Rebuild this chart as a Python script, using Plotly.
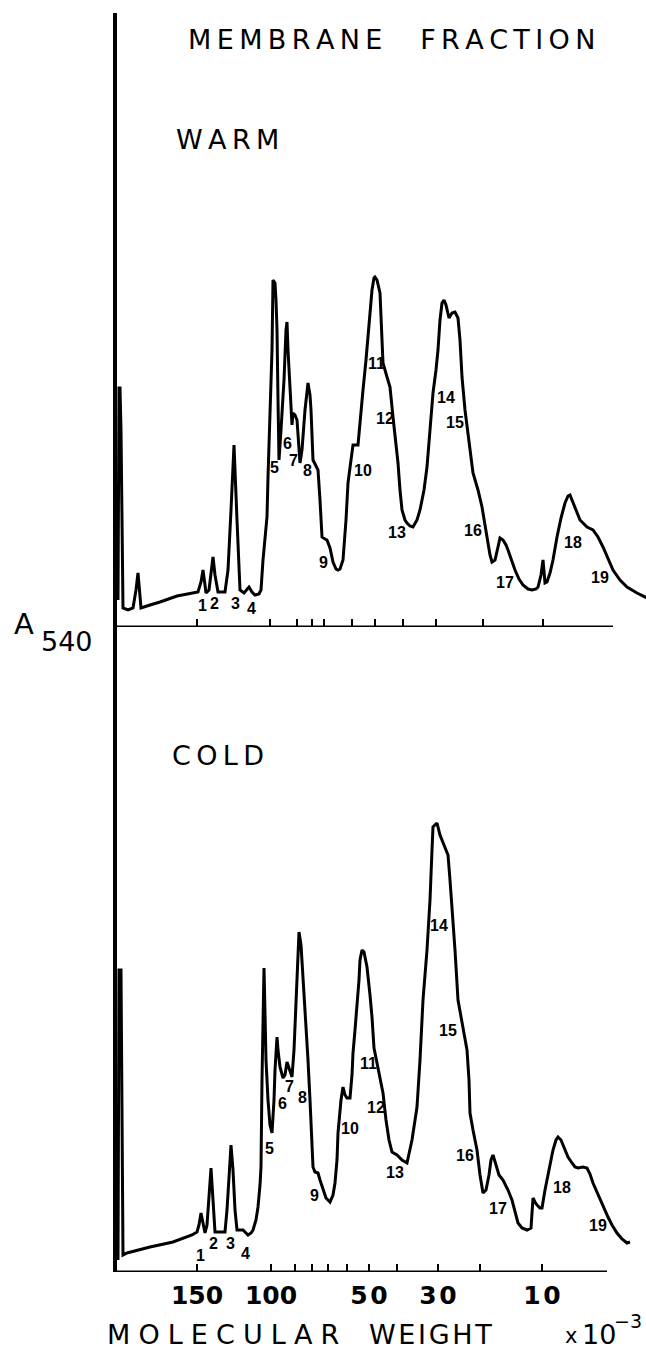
import plotly.graph_objects as go

W, H = 646, 1356

# ---- WARM membrane fraction densitometer trace (migration distance, A540 in arbitrary units)
warm_dist = [1, 2, 3, 4, 6, 11, 16, 19, 21, 23, 24, 33, 43, 60, 81, 84, 86, 88, 89, 92, 94, 96, 98, 101,
             108, 111, 114, 117, 120, 123, 127, 130, 132, 135, 138, 142, 144, 146, 148, 150, 151, 153, 155,
             156, 158, 159, 160, 161, 162, 164, 167, 169, 170, 171, 173, 174, 175, 176, 178, 180, 182, 183,
             185, 188, 191, 193, 194, 196, 199, 201, 203, 205, 208, 210, 213, 216, 219, 221, 223, 226, 229,
             231, 234, 236, 241, 243, 246, 249, 251, 253, 255, 257, 258, 260, 263, 265, 266, 270, 273, 276,
             279, 281, 283, 285, 288, 290, 293, 296, 300, 303, 307, 310, 313, 316, 319, 321, 323, 325, 327,
             329, 332, 335, 338, 341, 343, 345, 348, 350, 353, 356, 361, 365, 368, 370, 373, 375, 378, 381,
             383, 386, 389, 391, 395, 398, 402, 406, 411, 415, 419, 421, 424, 426, 428, 430, 433, 436, 440,
             444, 448, 451, 453, 456, 460, 463, 467, 470, 476, 481, 486, 491, 496, 503, 510, 520, 530]
warm_abs = [27, 239, 239, 197, 19, 17, 19, 37, 54, 27, 19, 22, 25, 31, 35, 45, 57, 42, 34, 37, 57, 70, 52, 35,
            35, 57, 117, 182, 107, 37, 34, 38, 40, 35, 32, 33, 37, 67, 87, 110, 150, 217, 277,
            347, 344, 327, 297, 227, 167, 197, 247, 297, 305, 277, 232, 217, 202, 214, 212, 207, 177, 164,
            177, 217, 244, 232, 217, 167, 161, 157, 127, 90, 88, 87, 79, 65, 58, 57, 58, 67, 107,
            144, 167, 182, 182, 207, 237, 267, 290, 317, 337, 349, 350, 347, 334, 287, 264, 250, 240, 210,
            182, 164, 137, 117, 107, 104, 101, 100, 107, 117, 137, 160, 197, 234, 257, 277, 307, 324, 327,
            322, 309, 314, 315, 309, 287, 250, 217, 200, 175, 154, 137, 120, 102, 90, 72, 65, 67, 80,
            89, 87, 82, 77, 65, 57, 48, 42, 38, 37, 38, 40, 52, 67, 44, 45, 54, 67, 90,
            109, 124, 131, 132, 125, 114, 107, 103, 100, 97, 90, 80, 69, 57, 47, 40, 34, 29]

# ---- COLD membrane fraction densitometer trace
cold_dist = [1, 2, 4, 5, 6, 10, 33, 56, 75, 80, 82, 84, 86, 88, 90, 92, 94, 96, 98, 103, 108, 110, 112, 114,
             116, 118, 120, 126, 129, 131, 134, 136, 139, 141, 143, 144, 145, 146, 147, 148, 149, 151, 153,
             155, 156, 157, 158, 160, 161, 163, 166, 168, 170, 171, 173, 175, 177, 178, 180, 182, 184, 185,
             188, 191, 193, 195, 196, 198, 201, 203, 206, 209, 213, 216, 218, 220, 221, 224, 226, 228, 230,
             233, 235, 236, 238, 240, 242, 243, 245, 247, 250, 253, 255, 257, 259, 262, 266, 269, 272, 275,
             280, 285, 290, 295, 300, 303, 306, 310, 313, 315, 316, 320, 323, 327, 331, 333, 335, 338, 341,
             346, 350, 352, 353, 356, 360, 363, 366, 369, 372, 374, 376, 379, 382, 386, 391, 395, 398, 401,
             405, 410, 414, 416, 418, 420, 423, 425, 428, 430, 433, 436, 439, 441, 444, 448, 451, 455, 458,
             461, 466, 470, 473, 476, 480, 483, 487, 491, 495, 500, 505, 510, 513]
cold_abs = [12, 302, 302, 172, 17, 19, 25, 30, 37, 40, 47, 59, 47, 39, 47, 77, 104, 72, 40, 40, 40, 62, 102, 127,
            102, 62, 42, 42, 39, 37, 39, 42, 52, 65, 87, 105, 192, 239, 304, 259, 212, 172, 147,
            139, 152, 172, 202, 235, 222, 205, 194, 197, 210, 207, 200, 195, 222, 245, 292, 340, 327, 312,
            259, 212, 172, 132, 105, 100, 99, 92, 82, 74, 70, 77, 89, 112, 139, 172, 185, 177, 174,
            174, 197, 219, 242, 265, 292, 312, 322, 320, 305, 277, 255, 224, 214, 202, 179, 152, 132, 120,
            117, 112, 109, 132, 165, 212, 272, 322, 372, 422, 445, 449, 437, 427, 417, 392, 365, 322, 272,
            242, 222, 192, 159, 142, 122, 97, 79, 82, 97, 112, 117, 107, 97, 92, 82, 72, 59, 49,
            44, 42, 44, 74, 70, 67, 64, 64, 82, 92, 107, 122, 132, 135, 132, 122, 115, 109, 105,
            104, 105, 104, 98, 89, 80, 72, 64, 55, 47, 39, 33, 29, 30]

# ---- molecular weight calibration ticks (migration distance) and labels
warm_tick_dist = [80, 153, 180, 195, 207, 235, 258, 286, 319, 366, 426]
cold_tick_dist = [80, 154, 178, 195, 211, 230, 252, 280, 321, 363, 425]
mw_tick_text = ["150", "100", "", "", "", "", "5\u200a0", "", "3\u200a0", "", "1\u200a0"]

# ---- band numbers
band_names = [str(i) for i in range(1, 20)]
warm_band_dist = [85, 97, 118, 134, 157, 170, 176, 190, 206, 246, 259, 268, 280, 329, 338, 356, 388, 456, 483]
warm_band_abs = [22, 24, 24, 19, 160, 184, 167, 157, 65, 157, 264, 209, 95, 230, 205, 97, 45, 85, 50]
cold_band_dist = [83, 96, 113, 128, 152, 165, 172, 185, 197, 233, 251, 259, 278, 322, 331, 348, 381, 445, 481]
cold_band_abs = [17, 29, 29, 19, 124, 169, 186, 175, 77, 144, 209, 165, 100, 347, 242, 117, 64, 85, 47]

warm_axis_len = 496
cold_axis_len = 490

fig = go.Figure()
line_style = dict(color="black", width=3)
fig.add_trace(go.Scatter(x=warm_dist, y=warm_abs, mode="lines", line=line_style,
                         xaxis="x", yaxis="y", showlegend=False, hoverinfo="skip"))
fig.add_trace(go.Scatter(x=cold_dist, y=cold_abs, mode="lines", line=line_style,
                         xaxis="x2", yaxis="y2", showlegend=False, hoverinfo="skip"))

x0 = 117 / W
common_x = dict(domain=[x0, 1.0], range=[0, W - 117], showline=False, showgrid=False,
                zeroline=False, ticks="inside", ticklen=8, tickwidth=2, tickcolor="black")
common_y = dict(showline=True, linewidth=3.5, linecolor="black", showgrid=False, zeroline=False,
                showticklabels=False, ticks="")

fig.update_layout(
    width=W, height=H,
    margin=dict(l=0, r=0, t=0, b=0),
    paper_bgcolor="white", plot_bgcolor="white",
    xaxis=dict(**common_x, anchor="y", tickvals=warm_tick_dist, showticklabels=False),
    yaxis=dict(**common_y, anchor="x", domain=[1 - 627 / H, 1 - 13 / H], range=[0, 614]),
    xaxis2=dict(**common_x, anchor="y2", tickvals=cold_tick_dist, ticktext=mw_tick_text,
                showticklabels=True, ticklabelstandoff=6,
                tickfont=dict(family="DejaVu Sans", size=25, color="black", weight="bold")),
    yaxis2=dict(**common_y, anchor="x2", domain=[1 - 1272 / H, 1 - 627 / H], range=[0, 645]),
)

# baseline (abscissa) lines of each panel
fig.add_shape(type="line", xref="x", yref="y", x0=0, x1=warm_axis_len, y0=0, y1=0,
              line=dict(color="black", width=3))
fig.add_shape(type="line", xref="x2", yref="y2", x0=0, x1=cold_axis_len, y0=0, y1=0,
              line=dict(color="black", width=3))

band_font = dict(family="Liberation Sans", size=16, color="black", weight="bold")
for name, xv, yv in zip(band_names, warm_band_dist, warm_band_abs):
    fig.add_annotation(x=xv, y=yv, xref="x", yref="y", text=name, showarrow=False, font=band_font)
for name, xv, yv in zip(band_names, cold_band_dist, cold_band_abs):
    fig.add_annotation(x=xv, y=yv, xref="x2", yref="y2", text=name, showarrow=False, font=band_font)

T = "\u2009"
HS = "\u200a"


def spaced(word, sep):
    return sep.join(list(word))


def add_text(text, px, py, size=27, anchor="left"):
    fig.add_annotation(x=px / W, y=1 - py / H, xref="paper", yref="paper", text=text,
                       showarrow=False, xanchor=anchor, yanchor="middle",
                       font=dict(family="DejaVu Sans", size=size, color="black"))


add_text(spaced("MEMBRANE", T) + "\u2003" + T + T + spaced("FRACTION", T), 186, 40)
add_text(spaced("WARM", HS + HS), 174, 139)
add_text(spaced("COLD", HS + HS), 170, 755)
add_text("A", 12, 624, size=29)
add_text("540", 39, 641, size=27)
add_text(spaced("MOLECULAR", T + HS) + "\u2003" + HS + spaced("WEIGHT", HS), 105, 1334)
add_text("x", 563, 1336, size=21)
add_text("10", 580, 1334)
add_text("\u2212" + "3", 612, 1321, size=19)

fig.write_html("out.html")
